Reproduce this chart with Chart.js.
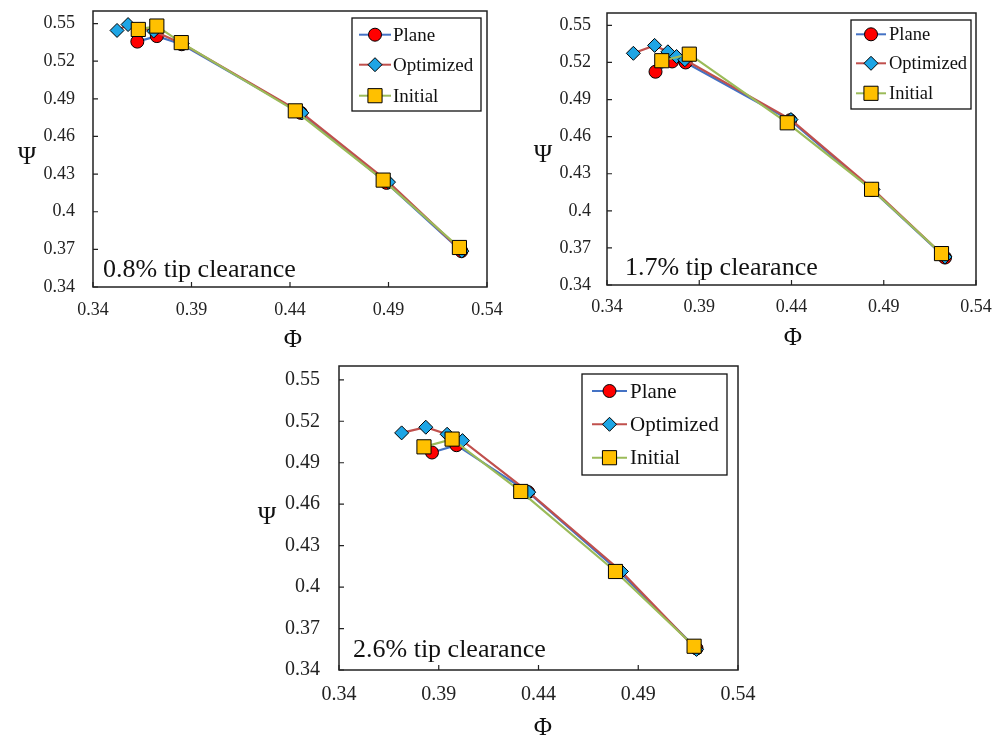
<!DOCTYPE html>
<html>
<head>
<meta charset="utf-8">
<script src="https://cdn.jsdelivr.net/npm/chart.js"></script>
<style>
  body { margin: 0; background: #fff; }
  #wrap { position: relative; width: 998px; height: 740px; }
  canvas { position: absolute; }
</style>
</head>
<body>
<div id="wrap">
  <canvas id="c1" width="507" height="355" style="left:0;top:0"></canvas>
  <canvas id="c2" width="488" height="355" style="left:510px;top:0"></canvas>
  <canvas id="c3" width="520" height="385" style="left:240px;top:355px"></canvas>
</div>
<script>
// axis ticks
const phiTicks = [0.34, 0.39, 0.44, 0.49, 0.54];
const psiTicks = [0.34, 0.37, 0.40, 0.43, 0.46, 0.49, 0.52, 0.55];
const seriesNames = ['Plane', 'Optimized', 'Initial'];

// 0.8% tip clearance
const plane08Phi = [0.3625, 0.3724, 0.385, 0.4455, 0.489, 0.527];
const plane08Psi = [0.5356, 0.540, 0.5335, 0.4788, 0.423, 0.3686];
const opt08Phi = [0.3522, 0.3578, 0.3708, 0.3853, 0.446, 0.490, 0.5272];
const opt08Psi = [0.5445, 0.5492, 0.544, 0.534, 0.4788, 0.4236, 0.3686];
const init08Phi = [0.363, 0.3724, 0.3848, 0.4427, 0.4873, 0.526];
const init08Psi = [0.5453, 0.548, 0.5348, 0.4804, 0.4252, 0.3715];

// 1.7% tip clearance
const plane17Phi = [0.3663, 0.3753, 0.3826, 0.4393, 0.4837, 0.5232];
const plane17Psi = [0.5125, 0.5208, 0.520, 0.4733, 0.4168, 0.3622];
const opt17Phi = [0.3543, 0.3658, 0.373, 0.3777, 0.3822, 0.4397, 0.4842, 0.5232];
const opt17Psi = [0.5274, 0.5338, 0.5286, 0.5248, 0.5222, 0.4738, 0.4173, 0.3627];
const init17Phi = [0.3697, 0.3846, 0.4377, 0.4834, 0.5213];
const init17Psi = [0.5214, 0.5267, 0.4712, 0.4174, 0.3654];

// 2.6% tip clearance
const plane26Phi = [0.3866, 0.3989, 0.4348, 0.4804, 0.5192];
const plane26Psi = [0.4974, 0.5027, 0.4687, 0.4113, 0.3556];
const opt26Phi = [0.3714, 0.3835, 0.3942, 0.4019, 0.4351, 0.4816, 0.5192];
const opt26Psi = [0.5116, 0.5157, 0.5106, 0.506, 0.4687, 0.4113, 0.3549];
const init26Phi = [0.3826, 0.3967, 0.4311, 0.4786, 0.518];
const init26Psi = [0.5015, 0.5071, 0.4692, 0.4113, 0.3572];

const FONT = "'Liberation Serif', 'Times New Roman', serif";
const lineColors = ['#4472C4', '#C0504D', '#9BBB59'];
const markerColors = ['#FF0000', '#1EA5E5', '#FFC000'];
const markerStyles = ['circle', 'rectRot', 'rect'];
const markerRadius = [6.5, 7, 10];

function toPoints(xs, ys) {
    return xs.map((x, i) => ({ x: x, y: ys[i] }));
}

function drawMarker(ctx, i, x, y) {
    const r = markerRadius[i];
    ctx.beginPath();
    if (markerStyles[i] === 'circle') {
        ctx.arc(x, y, r, 0, Math.PI * 2);
    } else if (markerStyles[i] === 'rectRot') {
        ctx.moveTo(x, y - r); ctx.lineTo(x + r, y); ctx.lineTo(x, y + r); ctx.lineTo(x - r, y);
        ctx.closePath();
    } else {
        const s = r * Math.SQRT1_2;
        ctx.rect(x - s, y - s, 2 * s, 2 * s);
    }
    ctx.fillStyle = markerColors[i];
    ctx.fill();
    ctx.lineWidth = 1;
    ctx.strokeStyle = '#000';
    ctx.stroke();
}

// frame, inward ticks, legend box, note and axis symbols
const panelDecor = {
    id: 'panelDecor',
    afterDraw(chart, args, o) {
        const ctx = chart.ctx;
        const a = chart.chartArea;
        ctx.save();
        ctx.strokeStyle = '#222';
        ctx.lineWidth = 1.5;
        ctx.strokeRect(a.left, a.top, a.right - a.left, a.bottom - a.top);

        ctx.lineWidth = 1.2;
        ctx.beginPath();
        phiTicks.forEach(v => {
            const px = chart.scales.x.getPixelForValue(v);
            ctx.moveTo(px, a.bottom); ctx.lineTo(px, a.bottom - 5);
        });
        psiTicks.forEach(v => {
            const py = chart.scales.y.getPixelForValue(v);
            ctx.moveTo(a.left, py); ctx.lineTo(a.left + 5, py);
        });
        ctx.stroke();

        // legend
        const L = o.legend;
        const bx = a.left + L.x, by = a.top + L.y;
        ctx.fillStyle = '#fff';
        ctx.fillRect(bx, by, L.w, L.h);
        ctx.strokeStyle = '#111';
        ctx.lineWidth = 1.3;
        ctx.strokeRect(bx, by, L.w, L.h);
        ctx.font = L.font + 'px ' + FONT;
        ctx.textBaseline = 'middle';
        ctx.textAlign = 'left';
        seriesNames.forEach((name, i) => {
            const ry = by + L.rows[i];
            ctx.strokeStyle = lineColors[i];
            ctx.lineWidth = 2;
            ctx.beginPath();
            ctx.moveTo(bx + L.line[0], ry); ctx.lineTo(bx + L.line[1], ry);
            ctx.stroke();
            drawMarker(ctx, i, bx + (L.line[0] + L.line[1]) / 2, ry);
            ctx.fillStyle = '#111';
            ctx.fillText(name, bx + L.text, ry + 1);
        });

        // clearance note
        ctx.font = '26px ' + FONT;
        ctx.textBaseline = 'alphabetic';
        ctx.fillStyle = '#111';
        ctx.fillText(o.note, a.left + o.noteX, a.bottom - o.noteY);

        // axis symbols
        ctx.font = '25px ' + FONT;
        ctx.textAlign = 'center';
        ctx.textBaseline = 'middle';
        ctx.fillText('\u03A6', o.phiPos[0], o.phiPos[1]);
        ctx.fillText('\u03A8', o.psiPos[0], o.psiPos[1]);
        ctx.restore();
    }
};

function makePanel(id, series, g) {
    const datasets = series.map((s, i) => ({
        label: seriesNames[i],
        data: toPoints(s[0], s[1]),
        showLine: true,
        borderColor: lineColors[i],
        borderWidth: 2.2,
        backgroundColor: markerColors[i],
        pointStyle: markerStyles[i],
        pointRadius: markerRadius[i],
        pointHoverRadius: markerRadius[i],
        pointBackgroundColor: markerColors[i],
        pointBorderColor: '#000',
        pointBorderWidth: 1,
        order: 3 - i
    }));

    new Chart(document.getElementById(id), {
        type: 'scatter',
        data: { datasets: datasets },
        options: {
            responsive: false,
            animation: false,
            layout: { padding: { top: g.top, right: g.right, left: 0, bottom: 0 } },
            plugins: {
                legend: { display: false },
                tooltip: { enabled: false },
                panelDecor: g.decor
            },
            scales: {
                x: {
                    type: 'linear',
                    min: 0.34,
                    max: 0.54,
                    afterBuildTicks: s => { s.ticks = phiTicks.map(v => ({ value: v })); },
                    afterFit: s => { s.height = g.xh; s.paddingLeft = 0; s.paddingRight = 0; },
                    grid: { display: false, drawTicks: false },
                    border: { display: false },
                    ticks: {
                        autoSkip: false,
                        maxRotation: 0,
                        padding: g.xpad,
                        color: '#222',
                        font: { family: FONT, size: g.tickFont },
                        callback: v => String(+v.toFixed(2))
                    }
                },
                y: {
                    type: 'linear',
                    min: 0.34,
                    max: 0.56,
                    afterBuildTicks: s => { s.ticks = psiTicks.map(v => ({ value: v })); },
                    afterFit: s => { s.width = g.yw; s.paddingTop = 0; s.paddingBottom = 0; },
                    grid: { display: false, drawTicks: false },
                    border: { display: false },
                    ticks: {
                        autoSkip: false,
                        padding: g.ypad,
                        color: '#222',
                        font: { family: FONT, size: g.tickFont },
                        callback: v => String(+v.toFixed(2))
                    }
                }
            }
        },
        plugins: [panelDecor]
    });
}

makePanel('c1',
    [[plane08Phi, plane08Psi], [opt08Phi, opt08Psi], [init08Phi, init08Psi]],
    { top: 8, right: 20, yw: 93, xh: 68, xpad: 12, ypad: 18, tickFont: 18,
      decor: { note: '0.8% tip clearance', noteX: 10, noteY: 10,
               phiPos: [293, 340], psiPos: [27, 157],
               legend: { x: 259, y: 7, w: 129, h: 93, rows: [16.7, 46.7, 77.7], line: [7, 39], text: 41, font: 19 } } });

makePanel('c2',
    [[plane17Phi, plane17Psi], [opt17Phi, opt17Psi], [init17Phi, init17Psi]],
    { top: 13, right: 22, yw: 97, xh: 70, xpad: 11, ypad: 16, tickFont: 18,
      decor: { note: '1.7% tip clearance', noteX: 18, noteY: 10,
               phiPos: [283, 338], psiPos: [33, 155],
               legend: { x: 244, y: 7, w: 120, h: 89, rows: [14.3, 43.3, 73.3], line: [5, 35], text: 38, font: 18.5 } } });

makePanel('c3',
    [[plane26Phi, plane26Psi], [opt26Phi, opt26Psi], [init26Phi, init26Psi]],
    { top: 9, right: 22, yw: 99, xh: 70, xpad: 13, ypad: 19, tickFont: 20,
      decor: { note: '2.6% tip clearance', noteX: 14, noteY: 13,
               phiPos: [303, 373], psiPos: [27, 162],
               legend: { x: 243, y: 8, w: 145, h: 101, rows: [17, 50.3, 83.7], line: [10, 45], text: 48, font: 21 } } });
</script>
</body>
</html>
